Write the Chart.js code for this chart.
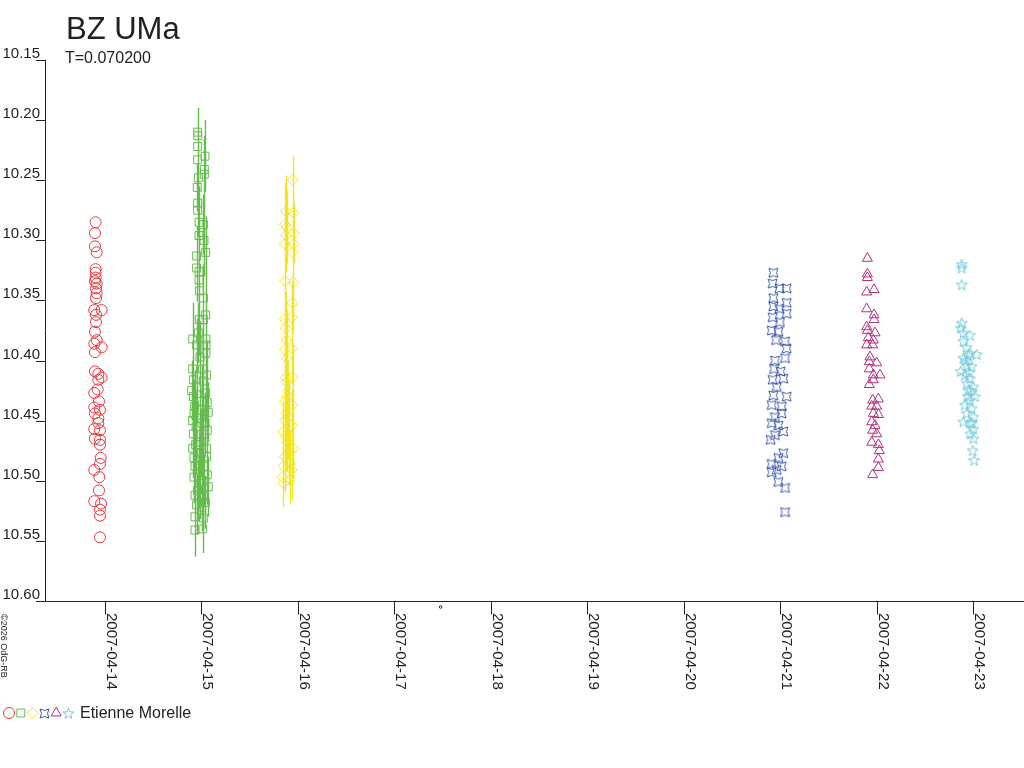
<!DOCTYPE html>
<html><head><meta charset="utf-8">
<script src="https://cdn.jsdelivr.net/npm/chart.js@4.4.1/dist/chart.umd.min.js"></script>
<style>html,body{margin:0;padding:0;background:#fff;overflow:hidden}#wrap{width:1024px;height:768px;position:relative}</style>
</head><body><div id="wrap"><canvas id="c" width="1024" height="768"></canvas></div>
<script>
// ---------- text ----------
const title = 'BZ UMa';
const subtitle = 'T=0.070200';
const observer = 'Etienne Morelle';
const credit = '\u00A92026 OdG-RB';

// ---------- axes ----------
const xTickDays = [14, 15, 16, 17, 18, 19, 20, 21, 22, 23];
const xTickLabels = ['2007-04-14','2007-04-15','2007-04-16','2007-04-17','2007-04-18','2007-04-19','2007-04-20','2007-04-21','2007-04-22','2007-04-23'];
const yTicks = [10.15, 10.20, 10.25, 10.30, 10.35, 10.40, 10.45, 10.50, 10.55, 10.60];
const yTickLabels = ['10.15','10.20','10.25','10.30','10.35','10.40','10.45','10.50','10.55','10.60'];
const xMin = 13.378, xMax = 23.529;   // April 2007 day numbers
const yMin = 10.15, yMax = 10.60;
const markDay = 17.48;

// ---------- data (day of April 2007, magnitude) ----------
const redDays = [13.903,13.896,13.896,13.914,13.903,13.903,13.903,13.896,13.914,13.907,13.914,13.907,13.889,13.965,13.907,13.907,13.896,13.914,13.889,13.965,13.896,13.896,13.931,13.965,13.931,13.889,13.924,13.938,13.889,13.948,13.896,13.931,13.931,13.889,13.948,13.896,13.948,13.948,13.955,13.948,13.889,13.941,13.938,13.889,13.959,13.948,13.948,13.948];
const redMags = [10.285,10.294,10.305,10.310,10.324,10.327,10.331,10.334,10.336,10.340,10.344,10.348,10.358,10.358,10.362,10.368,10.376,10.383,10.386,10.389,10.393,10.409,10.411,10.414,10.416,10.427,10.424,10.434,10.439,10.441,10.444,10.448,10.452,10.457,10.458,10.465,10.466,10.470,10.481,10.486,10.491,10.497,10.508,10.517,10.519,10.524,10.529,10.547];

const greenDays = [14.961,14.961,14.961,15.037,14.961,15.030,15.030,14.968,14.957,14.961,14.961,14.975,15.020,14.975,15.027,14.950,15.044,14.950,14.975,14.975,14.978,15.020,15.044,14.978,15.020,14.909,14.968,15.047,14.950,15.047,14.985,15.047,14.909,15.013,15.054,14.916,15.020,14.899,14.950,14.916,15.044,15.002,14.923,15.071,14.909,14.985,15.037,15.061,14.916,15.020,14.909,15.054,14.923,15.002,15.054,14.933,15.020,15.061,14.923,14.985,15.071,14.933,15.020,14.950,15.002,14.933,15.020,15.013,14.933,14.940,14.995,15.030,14.960,14.975,15.040,14.945,15.005,14.930,15.060];
const greenMags = [10.210,10.213,10.222,10.230,10.233,10.241,10.245,10.248,10.256,10.269,10.275,10.285,10.287,10.296,10.300,10.313,10.310,10.323,10.326,10.333,10.342,10.348,10.362,10.366,10.366,10.382,10.377,10.382,10.387,10.387,10.397,10.394,10.407,10.407,10.412,10.416,10.417,10.425,10.422,10.430,10.427,10.434,10.444,10.443,10.450,10.448,10.452,10.458,10.461,10.461,10.473,10.473,10.481,10.477,10.480,10.488,10.488,10.495,10.497,10.502,10.505,10.512,10.513,10.520,10.522,10.530,10.531,10.540,10.541,10.470,10.468,10.500,10.508,10.493,10.518,10.455,10.452,10.438,10.435];
const greenErrs = [0.020,0.018,0.022,0.030,0.020,0.028,0.030,0.022,0.020,0.025,0.022,0.030,0.025,0.028,0.030,0.025,0.030,0.028,0.022,0.025,0.030,0.028,0.025,0.030,0.028,0.030,0.025,0.028,0.022,0.025,0.030,0.028,0.025,0.030,0.028,0.022,0.030,0.025,0.030,0.028,0.025,0.030,0.028,0.025,0.030,0.028,0.025,0.022,0.030,0.028,0.025,0.030,0.028,0.025,0.022,0.030,0.028,0.025,0.022,0.030,0.025,0.028,0.022,0.025,0.020,0.022,0.025,0.020,0.022,0.025,0.028,0.022,0.025,0.030,0.022,0.028,0.025,0.030,0.025];

const yellowDays = [15.946,15.877,15.953,15.866,15.884,15.960,15.877,15.866,15.953,15.946,15.866,15.953,15.946,15.936,15.866,15.877,15.884,15.936,15.866,15.884,15.877,15.946,15.884,15.901,15.866,15.946,15.884,15.866,15.936,15.849,15.877,15.953,15.866,15.918,15.849,15.936,15.843,15.918,15.849,15.895,15.905,15.890,15.910,15.900];
const yellowMags = [10.250,10.276,10.277,10.287,10.289,10.294,10.296,10.303,10.303,10.310,10.334,10.335,10.352,10.364,10.366,10.373,10.383,10.390,10.391,10.398,10.414,10.414,10.418,10.425,10.434,10.437,10.444,10.450,10.454,10.459,10.463,10.473,10.480,10.486,10.488,10.491,10.497,10.499,10.502,10.430,10.447,10.468,10.476,10.457];
const yellowErrs = [0.020,0.030,0.025,0.035,0.030,0.025,0.030,0.035,0.028,0.030,0.030,0.028,0.025,0.030,0.028,0.030,0.025,0.030,0.028,0.030,0.025,0.028,0.030,0.025,0.028,0.030,0.025,0.028,0.030,0.025,0.028,0.025,0.030,0.028,0.020,0.025,0.022,0.020,0.020,0.028,0.030,0.025,0.028,0.025];

const blueDays = [20.930,20.923,20.992,21.068,20.930,21.068,20.930,20.992,21.068,20.923,20.999,20.913,20.982,20.958,21.051,21.068,20.947,21.051,20.937,21.006,20.923,21.034,20.965,21.068,20.930,20.913,21.016,20.947,21.016,20.913,20.982,21.034,20.947,20.902,21.034,20.982,20.913,21.016,20.913,20.965,20.982,21.051,21.051];
const blueMags = [10.327,10.336,10.340,10.340,10.348,10.352,10.355,10.357,10.361,10.364,10.368,10.375,10.376,10.383,10.384,10.390,10.400,10.398,10.407,10.409,10.416,10.415,10.422,10.430,10.429,10.437,10.438,10.447,10.444,10.452,10.454,10.459,10.462,10.466,10.477,10.481,10.486,10.488,10.493,10.491,10.501,10.506,10.526];

const magentaDays = [21.905,21.905,21.905,21.898,21.974,21.898,21.974,21.974,21.898,21.905,21.984,21.915,21.967,21.898,21.960,21.932,21.925,22.002,21.925,21.967,22.036,21.967,21.925,21.960,22.019,21.950,22.002,21.967,22.019,21.950,21.984,21.960,22.002,21.950,22.019,22.029,22.019,22.019,21.960];
const magentaMags = [10.315,10.328,10.331,10.343,10.341,10.357,10.362,10.366,10.372,10.375,10.377,10.381,10.383,10.387,10.387,10.397,10.401,10.402,10.407,10.412,10.412,10.416,10.420,10.433,10.432,10.438,10.438,10.444,10.445,10.451,10.454,10.458,10.461,10.468,10.470,10.475,10.482,10.489,10.495];

const cyanDays = [22.883,22.883,22.883,22.883,22.873,22.900,22.969,22.900,22.935,22.969,23.038,22.900,22.935,22.986,22.873,22.917,22.969,22.935,23.004,22.952,23.021,22.969,22.917,22.986,22.935,23.004,22.900,22.969,23.004,22.969,23.004,22.997,23.011,22.950,22.960,22.980,22.945,22.990,22.925];
const cyanMags = [10.320,10.323,10.337,10.369,10.373,10.377,10.379,10.384,10.389,10.394,10.395,10.398,10.404,10.405,10.409,10.412,10.415,10.419,10.422,10.425,10.430,10.433,10.437,10.440,10.444,10.447,10.451,10.452,10.457,10.461,10.465,10.475,10.483,10.396,10.410,10.425,10.430,10.452,10.400];

// ---------- styles ----------
const RED = '#e8383c', GREEN = '#66bb4f', YELLOW = '#f3e423', BLUE = '#3c57aa', MAGENTA = '#b2307f', CYAN = '#72c9da';
const TEXT = '#222222';
const FONT = '"Liberation Sans", Arial, Helvetica, sans-serif';

function makeStar4(color) {
  const c = document.createElement('canvas'); c.width = 11; c.height = 11;
  const g = c.getContext('2d'); g.strokeStyle = color; g.lineWidth = 1;
  const a = 1, b = 10, m = 5.5;
  g.beginPath();
  g.moveTo(a, a);
  g.quadraticCurveTo(m, 4, b, a);
  g.quadraticCurveTo(7, m, b, b);
  g.quadraticCurveTo(m, 7, a, b);
  g.quadraticCurveTo(4, m, a, a);
  g.closePath(); g.stroke();
  return c;
}
function makeStar5(color) {
  const c = document.createElement('canvas'); c.width = 13; c.height = 13;
  const g = c.getContext('2d'); g.strokeStyle = color; g.lineWidth = 1;
  const cx = 6.5, cy = 6.8, R = 5.8, r = 2.4;
  g.beginPath();
  for (let i = 0; i < 10; i++) {
    const ang = -Math.PI / 2 + i * Math.PI / 5;
    const rad = i % 2 === 0 ? R : r;
    const px = cx + rad * Math.cos(ang), py = cy + rad * Math.sin(ang);
    if (i === 0) g.moveTo(px, py); else g.lineTo(px, py);
  }
  g.closePath(); g.stroke();
  return c;
}

function pts(days, mags) { return days.map((d, i) => ({ x: d, y: mags[i] })); }

const datasets = [
  { label: 'red', data: pts(redDays, redMags), pointStyle: 'circle', pointRadius: 5.5, borderColor: RED },
  { label: 'green', data: pts(greenDays, greenMags), pointStyle: 'rect', pointRadius: 5.6, borderColor: GREEN, errs: greenErrs },
  { label: 'yellow', data: pts(yellowDays, yellowMags), pointStyle: 'rectRot', pointRadius: 5.5, borderColor: YELLOW, errs: yellowErrs },
  { label: 'blue', data: pts(blueDays, blueMags), pointStyle: makeStar4(BLUE), pointRadius: 5, borderColor: BLUE },
  { label: 'magenta', data: pts(magentaDays, magentaMags), pointStyle: 'triangle', pointRadius: 5.8, borderColor: MAGENTA },
  { label: 'cyan', data: pts(cyanDays, cyanMags), pointStyle: makeStar5(CYAN), pointRadius: 6, borderColor: CYAN }
].map(ds => Object.assign(ds, {
  showLine: false, backgroundColor: 'rgba(0,0,0,0)', pointBackgroundColor: 'rgba(0,0,0,0)',
  pointBorderColor: ds.borderColor, pointBorderWidth: 1, pointHoverRadius: ds.pointRadius, clip: false
}));

const decor = {
  id: 'decor',
  beforeDatasetsDraw(chart) {
    const { ctx, scales: { x, y } } = chart;
    ctx.save();
    ctx.lineWidth = 1.4;
    chart.data.datasets.forEach(ds => {
      if (!ds.errs) return;
      ctx.strokeStyle = ds.borderColor;
      ctx.beginPath();
      ds.data.forEach((p, i) => {
        const px = Math.round(x.getPixelForValue(p.x)) + 0.5;
        ctx.moveTo(px, y.getPixelForValue(p.y - ds.errs[i]));
        ctx.lineTo(px, y.getPixelForValue(p.y + ds.errs[i]));
      });
      ctx.stroke();
    });
    ctx.restore();
  },
  afterDraw(chart) {
    const { ctx, chartArea: a, scales: { x, y } } = chart;
    ctx.save();
    ctx.strokeStyle = TEXT; ctx.fillStyle = TEXT; ctx.lineWidth = 1;
    // y axis
    ctx.beginPath();
    ctx.moveTo(a.left + 0.5, a.top); ctx.lineTo(a.left + 0.5, a.bottom);
    yTicks.forEach(v => {
      const py = Math.round(y.getPixelForValue(v)) + 0.5;
      ctx.moveTo(a.left - 9, py); ctx.lineTo(a.left + 0.5, py);
    });
    // x axis
    const by = Math.round(a.bottom) + 0.5;
    ctx.moveTo(a.left - 9, by); ctx.lineTo(a.right, by);
    xTickDays.forEach(d => {
      const px = Math.round(x.getPixelForValue(d)) + 0.5;
      ctx.moveTo(px, by); ctx.lineTo(px, by + 13);
    });
    ctx.stroke();
    // y labels
    ctx.font = '15px ' + FONT; ctx.textAlign = 'right'; ctx.textBaseline = 'alphabetic';
    yTicks.forEach((v, i) => {
      ctx.fillText(yTickLabels[i], a.left - 5, Math.round(y.getPixelForValue(v)) - 2);
    });
    // x labels (rotated clockwise, reading top to bottom)
    ctx.textAlign = 'left';
    xTickDays.forEach((d, i) => {
      const px = Math.round(x.getPixelForValue(d));
      ctx.save(); ctx.translate(px + 2, a.bottom + 12); ctx.rotate(Math.PI / 2);
      ctx.fillText(xTickLabels[i], 0, 0); ctx.restore();
    });
    // small mark
    ctx.beginPath();
    ctx.arc(x.getPixelForValue(markDay), a.bottom + 6, 1.3, 0, Math.PI * 2);
    ctx.stroke();
    // credit
    ctx.save(); ctx.translate(1, a.bottom + 13); ctx.rotate(Math.PI / 2);
    ctx.font = '9px ' + FONT; ctx.fillText(credit, 0, 0); ctx.restore();
    // title
    ctx.font = '31px ' + FONT; ctx.fillText(title, 66, 39);
    ctx.font = '16px ' + FONT; ctx.fillText(subtitle, 65, 63);
    // legend
    let lx = 9; const ly = 713;
    chart.data.datasets.forEach(ds => {
      const st = ds.pointStyle;
      if (typeof st === 'object') {
        ctx.drawImage(st, Math.round(lx - st.width / 2), Math.round(ly - st.height / 2));
      } else if (Chart.helpers && Chart.helpers.drawPoint) {
        ctx.save(); ctx.strokeStyle = ds.borderColor; ctx.fillStyle = 'rgba(0,0,0,0)'; ctx.lineWidth = 1;
        Chart.helpers.drawPoint(ctx, { pointStyle: st, radius: ds.pointRadius, borderWidth: 1, rotation: 0 }, lx, ly);
        ctx.restore();
      }
      lx += 11.8;
    });
    ctx.fillStyle = TEXT; ctx.font = '16px ' + FONT; ctx.textAlign = 'left';
    ctx.fillText(observer, 80, 718);
    ctx.restore();
  }
};

new Chart(document.getElementById('c'), {
  type: 'scatter',
  data: { datasets },
  options: {
    responsive: false, devicePixelRatio: 1, animation: false,
    layout: { autoPadding: false, padding: { left: 45, top: 60, right: 0, bottom: 167 } },
    plugins: { legend: { display: false }, tooltip: { enabled: false }, title: { display: false } },
    scales: {
      x: { type: 'linear', min: xMin, max: xMax, display: false },
      y: { type: 'linear', min: yMin, max: yMax, reverse: true, display: false }
    }
  },
  plugins: [decor]
});
</script>
</body></html>
